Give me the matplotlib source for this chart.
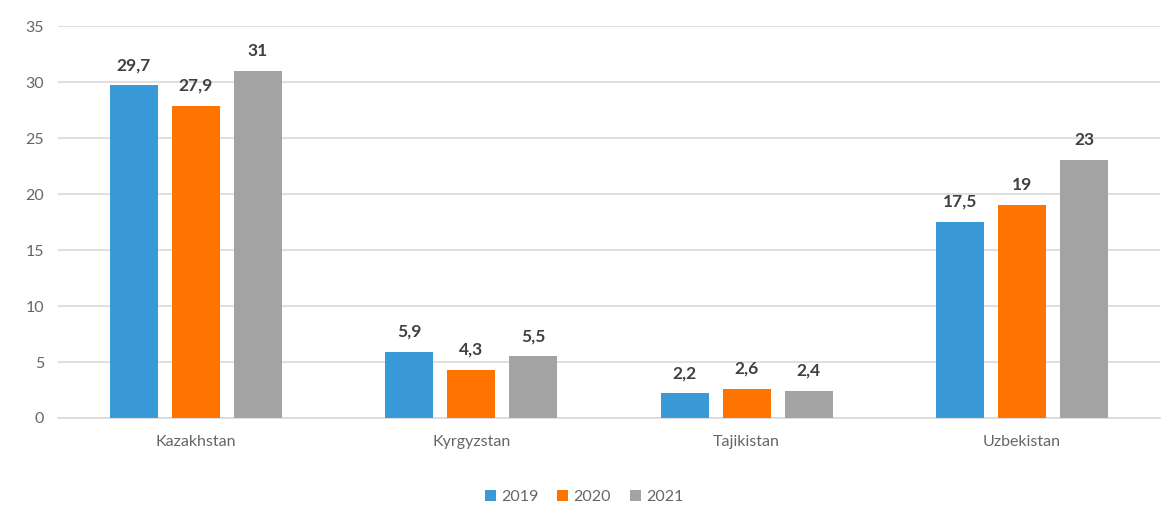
import matplotlib
matplotlib.use("Agg")
import matplotlib.pyplot as plt
import numpy as np

categories = ["Kazakhstan", "Kyrgyzstan", "Tajikistan", "Uzbekistan"]
years = ["2019", "2020", "2021"]
v2019 = [29.7, 5.9, 2.2, 17.5]
v2020 = [27.9, 4.3, 2.6, 19]
v2021 = [31, 5.5, 2.4, 23]
series = [v2019, v2020, v2021]
colors = ["#3A9AD9", "#FF7300", "#A3A3A3"]

plt.rcParams['font.family'] = ['Lato', 'DejaVu Sans']

fig = plt.figure(figsize=(11.68, 5.11), dpi=100)
ax = fig.add_axes([0.0497, 0.182, 0.9433, 0.767])

x = np.arange(len(categories))
w = 0.174
step = 0.225
for i, (vals, c, yr) in enumerate(zip(series, colors, years)):
    pos = x + (i - 1) * step
    ax.bar(pos, vals, width=w, color=c, label=yr, zorder=3)
    for xp, v in zip(pos, vals):
        lab = f"{v:g}".replace(".", ",")
        ax.text(xp, v + 1.1, lab, ha="center", va="bottom", fontsize=12.5,
                fontweight="bold", color="#404040")

ax.set_xlim(-0.5, 3.5)
ax.set_ylim(0, 35)
ax.set_yticks(range(0, 36, 5))
ax.yaxis.grid(True, color="#D9D9D9", linewidth=1.2, zorder=0)
ax.set_axisbelow(True)
for s in ["top", "right", "left"]:
    ax.spines[s].set_visible(False)
ax.spines["bottom"].set_color("#D9D9D9")
ax.spines["bottom"].set_linewidth(1.2)
ax.tick_params(axis="both", length=0, labelsize=11.5, colors="#666666")
ax.tick_params(axis="y", pad=10)
ax.tick_params(axis="x", pad=12)
ax.set_xticks(x)
ax.set_xticklabels(categories)

fig.legend(loc="lower center", bbox_to_anchor=(0.5, -0.015), ncol=3, frameon=False,
           fontsize=11.5, handlelength=0.7, handleheight=0.7, handletextpad=0.3,
           columnspacing=1.2, labelcolor="#666666")

fig.savefig("out.png", dpi=100)
